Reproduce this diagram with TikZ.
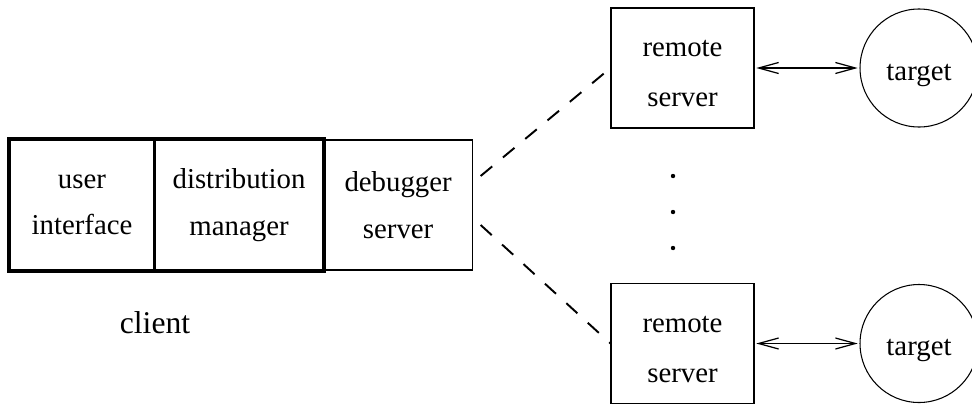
\documentclass[tikz,border=0pt]{standalone}
\usepackage{fontspec}
\setmainfont{Liberation Serif}
\usetikzlibrary{arrows.meta,positioning,calc,fit}
\newcommand{\srvstrut}{\rule{0pt}{0.55cm}}

\begin{document}
\begin{tikzpicture}[>={Straight Barb[length=0.4cm,width=0.22cm]}]
\tikzset{box/.style={draw, line width=0.6pt, align=center, inner sep=0pt, minimum height=2.6cm, font=\fontsize{16.4}{26.5}\selectfont}, srvbox/.style={box, minimum width=2.86cm, minimum height=2.4cm, font=\fontsize{16.4}{28.5}\selectfont}, tgt/.style={draw, circle, line width=0.6pt, minimum size=2.36cm, inner sep=0pt, font=\fontsize{16.4}{20}\selectfont}, link/.style={dash pattern=on 0.3cm off 0.28cm, line width=1.1pt}, vdot/.style={circle, fill, inner sep=0pt, minimum size=2.5pt}}
\useasboundingbox (0,0) rectangle (19.44,8.1);
% client side
\node[box, minimum width=2.88cm] (ui) at (1.64,4.0) {user\\interface};
\node[box, minimum width=3.36cm, right=0pt of ui] (dm) {distribution\\manager};
\node[box, minimum width=2.96cm, right=0pt of dm] (ds) {debugger\\server};
\node[fit=(ui)(dm), draw, line width=2.3pt, inner sep=0pt] (cl) {};
\node[font=\fontsize{18}{22}\selectfont] (cltext) at (3.1,1.64) {client};
% remote side
\node[srvbox] (rs1) at (13.65,6.74) {\srvstrut remote\\server};
\node[srvbox] (rs2) at (13.65,1.23) {\srvstrut remote\\server};
\node[tgt] (t1) at (18.38,6.74) {\smash{\raisebox{-0.24cm}{target}}};
\node[tgt] (t2) at (18.38,1.23) {\smash{\raisebox{-0.24cm}{target}}};
\foreach \y [count=\i] in {4.58,3.86,3.14} \node[vdot] (dot\i) at (13.46,\y) {};
\foreach \s/\t in {rs1/t1,rs2/t2} \draw[<->, line width=0.7pt, shorten <=1pt, shorten >=1pt] (\s) -- (\t);
\coordinate (up) at ($(ds.east)+(0.16,0.58)$);
\coordinate (lo) at ($(ds.east)+(0.16,-0.4)$);
\draw[link] (up) -- (rs1.west);
\draw[link] (lo) -- (rs2.west);
\end{tikzpicture}
\end{document}
